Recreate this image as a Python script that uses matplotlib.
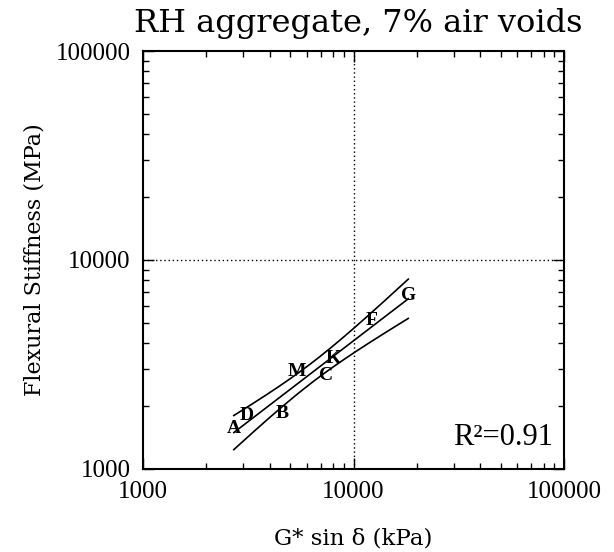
import numpy as np
import matplotlib
matplotlib.use("Agg")
import matplotlib.pyplot as plt
from matplotlib.ticker import LogLocator, NullFormatter, FixedLocator, FixedFormatter

# Mix identifiers and measured values
labels = ["A", "D", "B", "M", "C", "K", "F", "G"]
g_sin_delta = [2700, 3120, 4570, 5370, 7400, 8020, 12200, 18200]      # kPa
flex_stiffness = [1565, 1800, 1850, 2920, 2790, 3390, 5160, 6730]    # MPa

x_ticks = [1000, 10000, 100000]
y_ticks = [1000, 10000, 100000]
x_tick_labels = ["1000", "10000", "100000"]
y_tick_labels = ["1000", "10000", "100000"]
r_squared_text = "R²=0.91"
t_crit = 2.447  # two-sided 95 %, 6 degrees of freedom

# Log-log least-squares fit with 95 % confidence band for the mean
lx = np.log10(g_sin_delta)
ly = np.log10(flex_stiffness)
n = len(lx)
slope, intercept = np.polyfit(lx, ly, 1)
resid = ly - (slope * lx + intercept)
s = np.sqrt(np.sum(resid ** 2) / (n - 2))
sxx = np.sum((lx - lx.mean()) ** 2)
grid = np.linspace(lx.min(), lx.max(), 200)
fit = slope * grid + intercept
half = t_crit * s * np.sqrt(1.0 / n + (grid - lx.mean()) ** 2 / sxx)

serif = ["DejaVu Serif"]
num_font = ["Liberation Serif"]

fig = plt.figure(figsize=(6.14, 5.52), dpi=100)
ax = fig.add_axes([0.2329, 0.1504, 0.6857, 0.7572])
ax.set_xscale("log")
ax.set_yscale("log")
ax.set_xlim(1000, 100000)
ax.set_ylim(1000, 100000)

ax.plot(10 ** grid, 10 ** fit, color="black", lw=1.2)
ax.plot(10 ** grid, 10 ** (fit + half), color="black", lw=1.2)
ax.plot(10 ** grid, 10 ** (fit - half), color="black", lw=1.2)

for lab, xv, yv in zip(labels, g_sin_delta, flex_stiffness):
    ax.text(xv, yv, lab, ha="center", va="center", fontsize=14,
            family=num_font, fontweight="bold")

ax.axvline(10000, color="black", lw=1.0, ls=(0, (1, 2)))
ax.axhline(10000, color="black", lw=1.0, ls=(0, (1, 2)))

ax.xaxis.set_major_locator(FixedLocator(x_ticks))
ax.xaxis.set_major_formatter(FixedFormatter(x_tick_labels))
ax.yaxis.set_major_locator(FixedLocator(y_ticks))
ax.yaxis.set_major_formatter(FixedFormatter(y_tick_labels))
ax.xaxis.set_minor_locator(LogLocator(base=10, subs=np.arange(2, 10)))
ax.yaxis.set_minor_locator(LogLocator(base=10, subs=np.arange(2, 10)))
ax.xaxis.set_minor_formatter(NullFormatter())
ax.yaxis.set_minor_formatter(NullFormatter())
ax.tick_params(which="both", direction="in", top=True, right=True, width=1.0)
ax.tick_params(which="major", length=8, labelsize=18, pad=9)
ax.tick_params(which="minor", length=4)
for lab in ax.get_xticklabels() + ax.get_yticklabels():
    lab.set_family(num_font)
for sp in ax.spines.values():
    sp.set_linewidth(1.5)

ax.text(0.975, 0.075, r_squared_text, transform=ax.transAxes, ha="right",
        va="center", fontsize=22, family=num_font)

fig.text(0.583, 0.957, "RH aggregate, 7% air voids", ha="center", va="center",
         fontsize=23, family=serif)
ax.set_xlabel("G* sin δ (kPa)", fontsize=16.5, family=serif, labelpad=17)
ax.set_ylabel("Flexural Stiffness (MPa)", fontsize=16, family=serif, labelpad=7)

fig.savefig("out.png", dpi=100)
